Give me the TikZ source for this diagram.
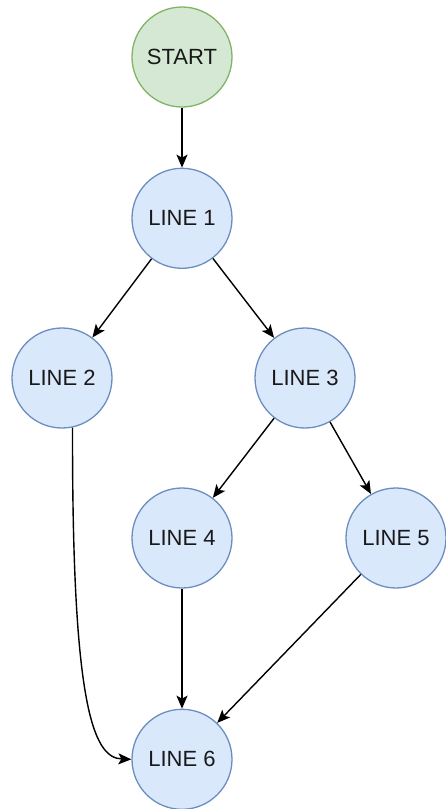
\documentclass[tikz,border=0pt]{standalone}
\usepackage{fontspec}
\setmainfont{Liberation Sans}
\usetikzlibrary{positioning,arrows.meta}
\definecolor{blueFill}{HTML}{DAE8FC}
\definecolor{blueLine}{HTML}{6C8EBF}
\definecolor{greenFill}{HTML}{D5E8D4}
\definecolor{greenLine}{HTML}{82B366}

\begin{document}
\begin{tikzpicture}[x=1pt, y=-1pt, node distance=60pt,
  every node/.style={font=\fontsize{22}{26}\selectfont, text=black!90}]
\tikzstyle{line}=[circle, draw=blueLine, fill=blueFill, line width=1.3pt, minimum size=100pt, inner sep=0pt]
\tikzstyle{begin}=[line, draw=greenLine, fill=greenFill]
\tikzstyle{flow}=[-{Stealth[length=13pt, width=11pt, inset=3pt]}, line width=1.4pt]
\useasboundingbox (0,0) rectangle (446,809);
\node[begin] (start) at (182,57) {START};
\node[line, below=of start] (line1) {LINE 1};
\node[line] (line2) at (62,378) {LINE 2};
\node[line] (line3) at (305,378) {LINE 3};
\node[line] (line4) at (182,538) {LINE 4};
\node[line] (line5) at (396,538) {LINE 5};
\node[line, below=120pt of line4] (line6) {LINE 6};
\draw[flow] (start)--(line1);
\draw[flow] (line1)--(line2);
\draw[flow] (line1)--(line3);
\draw[flow] (line3)--(line4);
\draw[flow] (line3)--(line5);
\draw[flow] (line4)--(line6);
\draw[flow] (line5)--(line6);
\draw[flow] (line2.-78) .. controls (72,700) and (92,758) .. (line6.west);
\end{tikzpicture}
\end{document}
